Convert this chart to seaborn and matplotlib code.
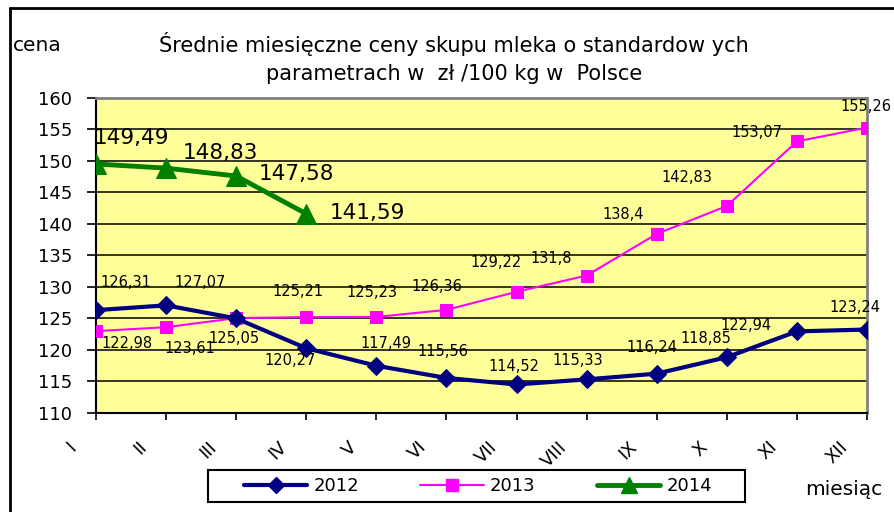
import numpy as np
import pandas as pd
import matplotlib
matplotlib.use('Agg')
import matplotlib.pyplot as plt
import seaborn as sns
from matplotlib.lines import Line2D
from matplotlib.patches import Rectangle
from matplotlib.transforms import ScaledTranslation

# Dane
months = ['I', 'II', 'III', 'IV', 'V', 'VI', 'VII', 'VIII', 'IX', 'X', 'XI', 'XII']
ceny_2012 = [126.31, 127.07, 125.0, 120.27, 117.49, 115.56, 114.52, 115.33, 116.24, 118.85, 122.94, 123.24]
ceny_2013 = [122.98, 123.61, 125.05, 125.21, 125.23, 126.36, 129.22, 131.8, 138.4, 142.83, 153.07, 155.26]
ceny_2014 = [149.49, 148.83, 147.58, 141.59]
# etykieta dla III/2012 nie jest widoczna na wykresie
pokaz_2012 = [True, True, False, True, True, True, True, True, True, True, True, True]

sns.set_style('white')
plt.rcParams['font.family'] = ['DejaVu Sans']
plt.rcParams['text.color'] = 'black'
plt.rcParams['xtick.color'] = 'black'
plt.rcParams['ytick.color'] = 'black'
plt.rcParams['xtick.labelcolor'] = 'black'
plt.rcParams['ytick.labelcolor'] = 'black'

fig = plt.figure(figsize=(8.94, 5.12), dpi=100)
ax = fig.add_axes([96 / 894, 1 - 413 / 512, (867 - 96) / 894, (413 - 97.7) / 512])
ax.set_facecolor('#FFFF99')

df12 = pd.DataFrame({'m': range(12), 'cena': ceny_2012})
df13 = pd.DataFrame({'m': range(12), 'cena': ceny_2013})
df14 = pd.DataFrame({'m': range(len(ceny_2014)), 'cena': ceny_2014})

# siatka
for v in range(115, 160, 5):
    ax.axhline(v, color='black', lw=1.1, zorder=1)

sns.lineplot(data=df12, x='m', y='cena', ax=ax, color='#000080', lw=3, marker='D',
             markersize=9, markeredgecolor='#000080', zorder=4)
sns.lineplot(data=df13, x='m', y='cena', ax=ax, color='#FF00FF', lw=1.5, marker='s',
             markersize=9, markeredgecolor='#FF00FF', zorder=3)
sns.lineplot(data=df14, x='m', y='cena', ax=ax, color='#008000', lw=3.5, marker='^',
             markersize=14, markeredgecolor='#008000', zorder=5)

ax.set_xlim(0, 11)
ax.set_ylim(110, 160)
ax.set_yticks(range(110, 161, 5))
ax.set_xticks(range(12))
ax.set_xticklabels(months, rotation=45, ha='right', va='top')
ax.set_xlabel('')
ax.set_ylabel('')
ax.tick_params(axis='y', direction='out', length=6.5, width=1.2, labelsize=13, pad=10.8,
               left=True, colors='black')
ax.tick_params(axis='x', direction='out', length=5, width=1.2, labelsize=13, pad=13,
               bottom=True, colors='black')
for lbl in ax.get_xticklabels():
    lbl.set_transform(lbl.get_transform() + ScaledTranslation(-0.16, 0, fig.dpi_scale_trans))

for s in ['left', 'bottom']:
    ax.spines[s].set_color('black')
    ax.spines[s].set_linewidth(1.5)
for s in ['top', 'right']:
    ax.spines[s].set_color('#808080')
    ax.spines[s].set_linewidth(2)


def fmt(v):
    return f'{v:g}'.replace('.', ',')


# przesunięcia etykiet w pikselach
off_2012 = [(30, 28), (34, 23), (0, 0), (-16, -12), (10, 22), (-4, 26), (-3, 18), (-9, 19),
            (-5, 26), (-21, 19), (-51, 6), (-12, 22)]
off_2013 = [(31, -12), (24, -21), (-2, -20), (-8, 26), (-4, 24), (-10, 23), (-20, 29), (-35, 17),
            (-34, 19), (-40, 28), (-40, 9), (-1, 21)]
off_2014 = [(35, 26), (54, 15), (60, 2), (61, 1)]

for i, v in enumerate(ceny_2012):
    if pokaz_2012[i]:
        ax.annotate(fmt(v), (i, v), xytext=off_2012[i], textcoords='offset pixels',
                    ha='center', va='center', fontsize=10.5, color='black', zorder=6,
                    annotation_clip=False)
for i, v in enumerate(ceny_2013):
    ax.annotate(fmt(v), (i, v), xytext=off_2013[i], textcoords='offset pixels',
                ha='center', va='center', fontsize=10.5, color='black', zorder=6,
                annotation_clip=False)
for i, v in enumerate(ceny_2014):
    ax.annotate(fmt(v), (i, v), xytext=off_2014[i], textcoords='offset pixels',
                ha='center', va='center', fontsize=15.5, color='black', zorder=6,
                annotation_clip=False)

# tytuł i opisy osi
fig.text(454 / 894, 1 - 52 / 512, 'Średnie miesięczne ceny skupu mleka o standardow ych',
         ha='center', va='baseline', fontsize=15, color='black')
fig.text(454 / 894, 1 - 80 / 512, 'parametrach w  zł /100 kg w  Polsce',
         ha='center', va='baseline', fontsize=15, color='black')
fig.text(13 / 894, 1 - 51 / 512, 'cena', ha='left', va='baseline', fontsize=14.5, color='black')
fig.text(805 / 894, 1 - 495 / 512, 'miesiąc', ha='left', va='baseline', fontsize=14.5,
         color='black')

# legenda
handles = [
    Line2D([], [], color='#000080', lw=3, marker='D', markersize=8),
    Line2D([], [], color='#FF00FF', lw=1.5, marker='s', markersize=9),
    Line2D([], [], color='#008000', lw=3.5, marker='^', markersize=12),
]
leg = fig.legend(handles, ['2012', '2013', '2014'], ncol=3, frameon=False, fontsize=13,
                 loc='center', bbox_to_anchor=(478 / 894, 1 - 486 / 512),
                 handlelength=3.5, handletextpad=0.35, columnspacing=3.4)
for t in leg.get_texts():
    t.set_color('black')
fig.patches.append(Rectangle((208 / 894, 1 - 502 / 512), (745 - 208) / 894, 32 / 512,
                             transform=fig.transFigure, fill=False, ec='black', lw=1.5))

# ramka wykresu
fig.add_artist(Line2D([10 / 894, 10 / 894], [0, 1 - 8 / 512], transform=fig.transFigure,
                      color='black', lw=2))
fig.add_artist(Line2D([10 / 894, 1], [1 - 8 / 512, 1 - 8 / 512], transform=fig.transFigure,
                      color='black', lw=2))

fig.savefig('out.png', dpi=100)
